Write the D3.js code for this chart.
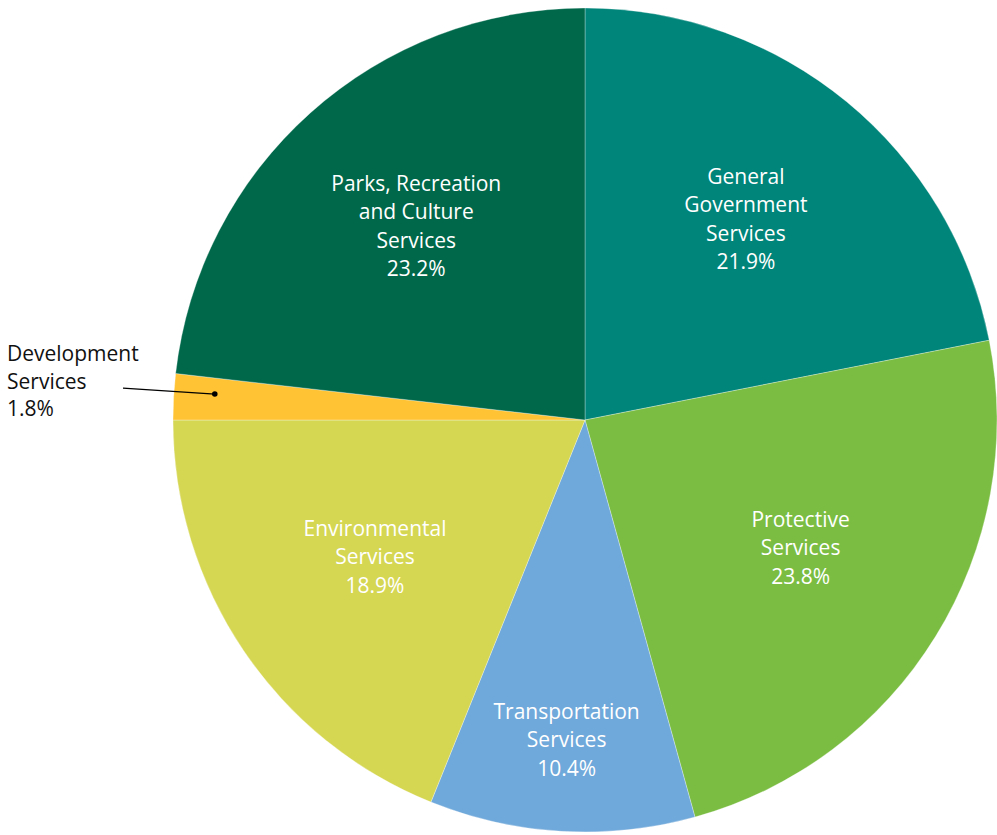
<!DOCTYPE html>
<html>
<head>
<meta charset="utf-8">
<script src="https://cdn.jsdelivr.net/npm/d3@7"></script>
<style>
  body { margin: 0; background: #fff; }
  svg text { font-family: "Open Sans", Lato, sans-serif; font-size: 21px; }
</style>
</head>
<body>
<div id="chart"></div>
<script>
// Chart data
var categories = [
  ["General", "Government", "Services"],
  ["Protective", "Services"],
  ["Transportation", "Services"],
  ["Environmental", "Services"],
  ["Development", "Services"],
  ["Parks, Recreation", "and Culture", "Services"]
];
var values = [21.9, 23.8, 10.4, 18.9, 1.8, 23.2];
var colors = ["#00857a", "#7abd42", "#6fa8da", "#d5d652", "#ffc333", "#00684a"];

var width = 997, height = 835;
var cx = 585, cy = 420, radius = 412;
var lineHeight = 28.5;

var svg = d3.select("#chart")
            .append("svg")
            .attr("width", width)
            .attr("height", height);

var g = svg.append("g")
           .attr("transform", "translate(" + cx + "," + cy + ")");

var pie = d3.pie().sort(null).value(function(d) { return d; });
var arcs = pie(values);

var arc = d3.arc().innerRadius(0).outerRadius(radius);

g.selectAll("path.slice")
  .data(arcs)
  .enter()
  .append("path")
  .attr("class", "slice")
  .attr("d", arc)
  .style("fill", function(d, i) { return colors[i]; })
  .style("stroke", "#fff")
  .style("stroke-opacity", 0.5)
  .style("stroke-width", 0.6);

// point on a ring at the slice's middle angle
function ringPoint(d, r) {
  var a = (d.startAngle + d.endAngle) / 2;
  return [r * Math.sin(a), -r * Math.cos(a)];
}

// Labels inside the bigger slices
arcs.forEach(function(d, i) {
  if (values[i] < 5) return;
  var r = values[i] < 15 ? radius * 0.79 : radius * 0.615;
  var p = ringPoint(d, r);
  var lines = categories[i].concat([values[i].toFixed(1) + "%"]);
  var text = g.append("text")
              .attr("text-anchor", "middle")
              .style("fill", "#fff");
  lines.forEach(function(l, j) {
    text.append("tspan")
        .attr("x", p[0])
        .attr("y", p[1] - 5 + (j - (lines.length - 1) / 2) * lineHeight)
        .attr("dy", "0.35em")
        .text(l);
  });
});

// Small slice: label outside with a leader line
arcs.forEach(function(d, i) {
  if (values[i] >= 5) return;
  var p = ringPoint(d, radius * 0.9);
  var dot = [cx + p[0], cy + p[1] - 5];
  var lines = categories[i].concat([values[i].toFixed(1) + "%"]);
  var tx = 7, ty = dot[1] - 40;

  svg.append("line")
     .attr("x1", 123).attr("y1", dot[1] - 6)
     .attr("x2", dot[0]).attr("y2", dot[1])
     .style("stroke", "#000")
     .style("stroke-width", 1.2);
  svg.append("circle")
     .attr("cx", dot[0]).attr("cy", dot[1])
     .attr("r", 2.8)
     .style("fill", "#000");

  var text = svg.append("text").style("fill", "#111");
  lines.forEach(function(l, j) {
    text.append("tspan")
        .attr("x", tx)
        .attr("y", ty + j * 27.5)
        .attr("dy", "0.35em")
        .text(l);
  });
});
</script>
</body>
</html>
